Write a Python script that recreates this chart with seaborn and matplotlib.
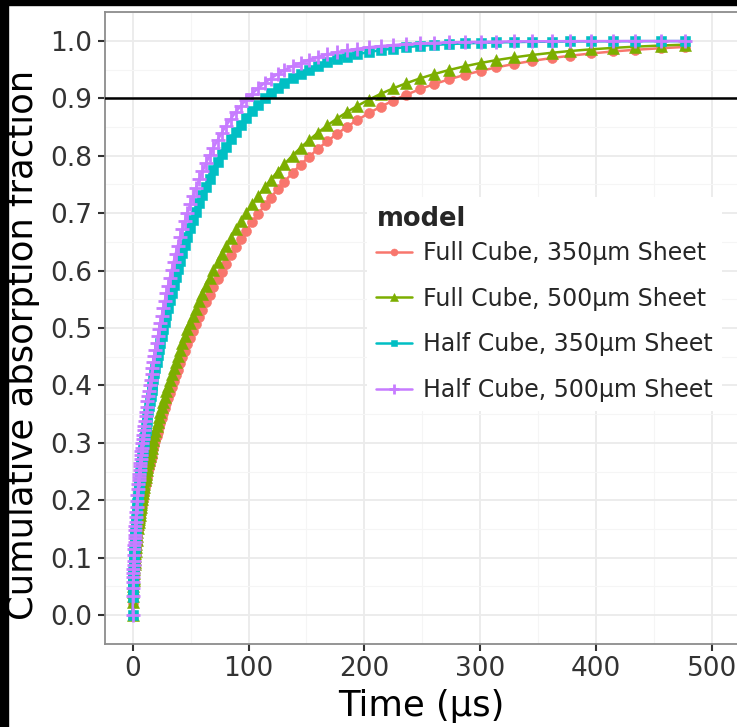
#!/usr/bin/env python3
# coding: utf-8

import pandas as pd
import matplotlib
matplotlib.use("Agg")
import matplotlib.pyplot as plt
from matplotlib.patches import Rectangle
from matplotlib.ticker import MultipleLocator, FormatStrFormatter
import seaborn as sns

# time points (us)
time_us = [0, 0.1, 0.2, 0.3, 0.4, 0.5, 0.6, 0.7, 0.8, 1.0,
           1.2, 1.35, 1.5, 1.65, 1.8, 2.0, 2.2, 2.4, 2.7, 2.95,
           3.25, 3.6, 4.0, 4.4, 4.8, 5.05, 5.3, 5.55, 5.85, 6.15,
           6.45, 6.75, 7.1, 7.45, 7.8, 8.2, 8.6, 9.05, 9.5, 10.0,
           10.5, 11.0, 11.5, 12.1, 12.7, 13.3, 14.0, 14.7, 15.4, 16.2,
           17.0, 17.8, 18.7, 19.6, 20.6, 21.6, 22.7, 23.8, 25.0, 26.3,
           27.6, 29.0, 30.4, 31.9, 33.5, 35.2, 37.0, 38.8, 40.8, 42.8,
           45.0, 47.2, 49.6, 52.0, 54.6, 57.4, 60.2, 63.2, 66.4, 69.7,
           73.2, 76.9, 80.7, 84.8, 89.0, 93.4, 98.1, 103, 108, 114,
           119, 125, 131, 138, 145, 152, 160, 168, 176, 185,
           194, 204, 214, 225, 236, 248, 260, 273, 287, 301,
           314, 329, 345, 362, 378, 396, 415, 434, 456, 477]

full_350 = [0, 0.0217, 0.0307, 0.0376, 0.0434, 0.0485, 0.0531, 0.0574, 0.0614, 0.0686,
            0.0751, 0.0797, 0.0840, 0.0881, 0.0920, 0.0970, 0.1017, 0.1063, 0.1127, 0.1178,
            0.1237, 0.1302, 0.1372, 0.1439, 0.1503, 0.1542, 0.1579, 0.1616, 0.1659, 0.1701,
            0.1742, 0.1782, 0.1828, 0.1872, 0.1916, 0.1964, 0.2012, 0.2064, 0.2114, 0.2169,
            0.2223, 0.2275, 0.2326, 0.2386, 0.2445, 0.2502, 0.2567, 0.2630, 0.2692, 0.2761,
            0.2828, 0.2894, 0.2966, 0.3037, 0.3114, 0.3188, 0.3268, 0.3347, 0.3430, 0.3518,
            0.3604, 0.3694, 0.3782, 0.3875, 0.3971, 0.4070, 0.4173, 0.4273, 0.4382, 0.4488,
            0.4602, 0.4713, 0.4831, 0.4947, 0.5069, 0.5195, 0.5318, 0.5446, 0.5577, 0.5710,
            0.5846, 0.5984, 0.6123, 0.6265, 0.6406, 0.6548, 0.6693, 0.6838, 0.6979, 0.7140,
            0.7268, 0.7414, 0.7552, 0.7704, 0.7846, 0.7979, 0.8122, 0.8255, 0.8377, 0.8506,
            0.8624, 0.8744, 0.8854, 0.8963, 0.9062, 0.9160, 0.9247, 0.9331, 0.9412, 0.9482,
            0.9540, 0.9599, 0.9654, 0.9703, 0.9744, 0.9783, 0.9818, 0.9847, 0.9874, 0.9896]

full_500 = [0, 0.0229, 0.0324, 0.0397, 0.0458, 0.0512, 0.0561, 0.0606, 0.0648, 0.0724,
            0.0793, 0.0841, 0.0887, 0.0930, 0.0971, 0.1024, 0.1074, 0.1122, 0.1190, 0.1244,
            0.1305, 0.1374, 0.1448, 0.1519, 0.1586, 0.1627, 0.1667, 0.1706, 0.1751, 0.1795,
            0.1839, 0.1881, 0.1929, 0.1976, 0.2022, 0.2073, 0.2123, 0.2178, 0.2232, 0.2290,
            0.2346, 0.2401, 0.2455, 0.2518, 0.2580, 0.2640, 0.2709, 0.2776, 0.2841, 0.2914,
            0.2985, 0.3055, 0.3131, 0.3205, 0.3286, 0.3365, 0.3450, 0.3532, 0.3620, 0.3713,
            0.3804, 0.3899, 0.3992, 0.4089, 0.4190, 0.4296, 0.4404, 0.4510, 0.4625, 0.4737,
            0.4857, 0.4974, 0.5094, 0.5213, 0.5339, 0.5471, 0.5599, 0.5732, 0.5869, 0.6006,
            0.6146, 0.6288, 0.6429, 0.6575, 0.6718, 0.6861, 0.7008, 0.7153, 0.7294, 0.7455,
            0.7580, 0.7724, 0.7858, 0.8005, 0.8142, 0.8269, 0.8405, 0.8530, 0.8644, 0.8763,
            0.8871, 0.8979, 0.9078, 0.9176, 0.9263, 0.9348, 0.9422, 0.9494, 0.9561, 0.9619,
            0.9667, 0.9714, 0.9757, 0.9795, 0.9826, 0.9855, 0.9880, 0.9901, 0.9921, 0.9936]

half_350 = [0, 0.0308, 0.0435, 0.0533, 0.0615, 0.0688, 0.0754, 0.0814, 0.0870, 0.0973,
            0.1066, 0.1131, 0.1192, 0.1250, 0.1305, 0.1376, 0.1443, 0.1507, 0.1599, 0.1671,
            0.1754, 0.1846, 0.1946, 0.2041, 0.2132, 0.2187, 0.2240, 0.2292, 0.2353, 0.2413,
            0.2471, 0.2528, 0.2593, 0.2656, 0.2717, 0.2786, 0.2853, 0.2927, 0.2999, 0.3077,
            0.3153, 0.3227, 0.3300, 0.3385, 0.3467, 0.3548, 0.3641, 0.3731, 0.3818, 0.3916,
            0.4012, 0.4105, 0.4208, 0.4308, 0.4416, 0.4522, 0.4636, 0.4747, 0.4865, 0.4990,
            0.5106, 0.5232, 0.5353, 0.5481, 0.5612, 0.5748, 0.5887, 0.6020, 0.6165, 0.6303,
            0.6450, 0.6591, 0.6738, 0.6878, 0.7023, 0.7173, 0.7314, 0.7458, 0.7603, 0.7744,
            0.7884, 0.8023, 0.8156, 0.8290, 0.8417, 0.8539, 0.8660, 0.8776, 0.8883, 0.9000,
            0.9087, 0.9182, 0.9267, 0.9356, 0.9433, 0.9502, 0.9570, 0.9629, 0.9679, 0.9728,
            0.9770, 0.9808, 0.9840, 0.9869, 0.9893, 0.9914, 0.9931, 0.9946, 0.9958, 0.9968,
            0.9975, 0.9981, 0.9986, 0.9989, 0.9992, 0.9994, 0.9996, 0.9997, 0.9998, 0.9998]

half_500 = [0, 0.0330, 0.0467, 0.0572, 0.0660, 0.0738, 0.0809, 0.0874, 0.0934, 0.1044,
            0.1144, 0.1213, 0.1279, 0.1341, 0.1401, 0.1476, 0.1548, 0.1617, 0.1716, 0.1793,
            0.1882, 0.1981, 0.2088, 0.2190, 0.2287, 0.2346, 0.2403, 0.2459, 0.2525, 0.2589,
            0.2651, 0.2712, 0.2782, 0.2850, 0.2916, 0.2990, 0.3062, 0.3141, 0.3218, 0.3301,
            0.3383, 0.3463, 0.3540, 0.3632, 0.3721, 0.3807, 0.3906, 0.4003, 0.4097, 0.4202,
            0.4304, 0.4405, 0.4515, 0.4622, 0.4738, 0.4852, 0.4974, 0.5093, 0.5213, 0.5344,
            0.5471, 0.5604, 0.5733, 0.5867, 0.6004, 0.6146, 0.6290, 0.6429, 0.6577, 0.6719,
            0.6868, 0.7010, 0.7158, 0.7298, 0.7443, 0.7590, 0.7728, 0.7867, 0.8007, 0.8141,
            0.8273, 0.8404, 0.8527, 0.8649, 0.8764, 0.8873, 0.8980, 0.9081, 0.9173, 0.9271,
            0.9344, 0.9422, 0.9491, 0.9561, 0.9621, 0.9673, 0.9724, 0.9767, 0.9803, 0.9837,
            0.9865, 0.9891, 0.9912, 0.9930, 0.9945, 0.9957, 0.9967, 0.9975, 0.9981, 0.9986,
            0.9989, 0.9992, 0.9994, 0.9996, 0.9997, 0.9998, 0.9998, 0.9999, 0.9999, 0.9999]

models = ["Full Cube, 350\u03bcm Sheet", "Full Cube, 500\u03bcm Sheet",
          "Half Cube, 350\u03bcm Sheet", "Half Cube, 500\u03bcm Sheet"]
series = [full_350, full_500, half_350, half_500]
threshold = 0.9

# ggplot default hue colours
colors = ["#F8766D", "#7CAE00", "#00BFC4", "#C77CFF"]
markers = ["o", "^", "s", "+"]
msizes = [7.2, 8.2, 6.8, 10.0]

df = pd.concat([pd.DataFrame({"time": time_us, "frac": s, "model": m})
                for m, s in zip(models, series)], ignore_index=True)

sns.set_theme(style="white")
plt.rcParams["font.family"] = ["DejaVu Sans"]

fig = plt.figure(figsize=(7.37, 7.27), dpi=100)
ax = fig.add_axes([105 / 737, 83 / 727, 632 / 737, 632 / 727])

for m, c, mk, ms in zip(models, colors, markers, msizes):
    sub = df[df["model"] == m]
    mew = 2.0 if mk == "+" else 0.4
    sns.lineplot(data=sub, x="time", y="frac", color=c, marker=mk, markersize=ms,
                 markeredgecolor=c, markeredgewidth=mew, lw=1.8, label=m,
                 sort=False, estimator=None, ax=ax)

ax.axhline(threshold, color="black", lw=1.8, zorder=6)

ax.set_xlim(-24, 521.8)
ax.set_ylim(-0.0505, 1.0505)
ax.xaxis.set_major_locator(MultipleLocator(100))
ax.xaxis.set_minor_locator(MultipleLocator(50))
ax.yaxis.set_major_locator(MultipleLocator(0.1))
ax.yaxis.set_minor_locator(MultipleLocator(0.05))
ax.yaxis.set_major_formatter(FormatStrFormatter("%.1f"))

ax.grid(which="major", color="#EBEBEB", lw=1.3)
ax.grid(which="minor", color="#F5F5F5", lw=0.8)
ax.set_axisbelow(True)

for side in ["left", "bottom", "top"]:
    ax.spines[side].set_color("#8C8C8C")
    ax.spines[side].set_linewidth(1.3)
ax.spines["right"].set_visible(False)

ax.tick_params(which="major", direction="out", length=5, width=1.5, color="#333333",
               labelsize=19, labelcolor="#333333", pad=4, left=True, bottom=True)
ax.tick_params(which="minor", length=0)

ax.set_xlabel("Time (\u03bcs)", fontsize=25.5, color="black", labelpad=5)
ax.set_ylabel("Cumulative absorption fraction", fontsize=25.5, color="black")
ax.yaxis.set_label_coords(-0.103, 0.473)

leg = ax.legend(title="model", loc="upper left", bbox_to_anchor=(0.4146, 0.7072),
                fontsize=17, title_fontproperties={"weight": "bold", "size": 18.5},
                frameon=True, facecolor="white", edgecolor="none", framealpha=1,
                fancybox=False, handlelength=1.5, handletextpad=0.45,
                labelspacing=0.92, borderpad=0.4, borderaxespad=0,
                markerscale=0.7, alignment="left")
# tighter gap between the legend title and the first entry
leg._legend_box.sep = 6
leg.set_zorder(7)

# black strips of the screenshot frame
fig.patches.append(Rectangle((0, 0), 8 / 737, 1, transform=fig.transFigure,
                             color="black", zorder=10))
fig.patches.append(Rectangle((0, 1 - 5 / 727), 1, 5 / 727, transform=fig.transFigure,
                             color="black", zorder=10))

fig.savefig("out.png", dpi=100)
